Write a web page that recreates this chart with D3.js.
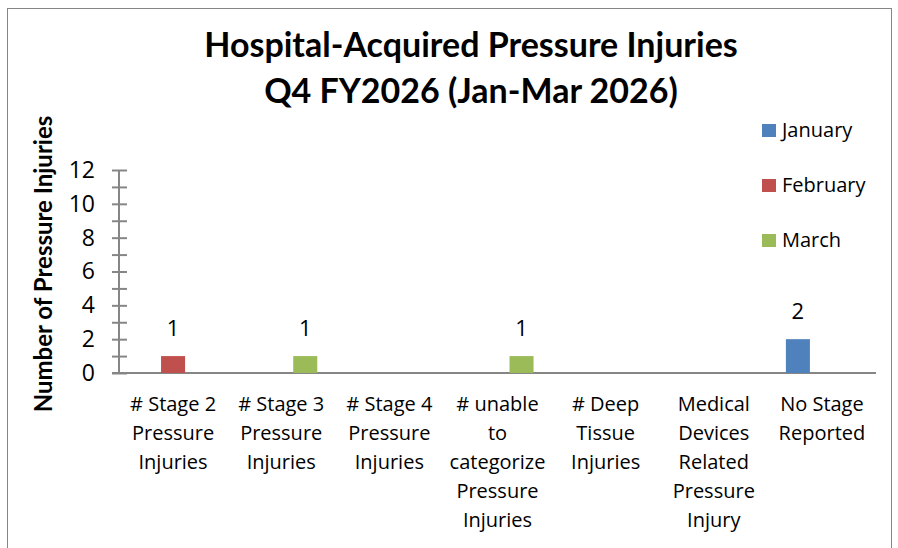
<!DOCTYPE html>
<html>
<head>
<meta charset="utf-8">
<script src="https://cdn.jsdelivr.net/npm/d3@7"></script>
<style>
  body { margin: 0; background: #fff; }
  text { fill: #000; }
</style>
</head>
<body>
<div id="chartContainer"></div>
<script>
// chart data
const categories = [
  "# Stage 2 Pressure Injuries",
  "# Stage 3 Pressure Injuries",
  "# Stage 4 Pressure Injuries",
  "# unable to categorize Pressure Injuries",
  "# Deep Tissue Injuries",
  "Medical Devices Related Pressure Injury",
  "No Stage Reported"
];
const months = ["January", "February", "March"];
const january = [null, null, null, null, null, null, 2];
const february = [1, null, null, null, null, null, null];
const march = [null, 1, null, 1, null, null, null];
const yTickLabels = [0, 2, 4, 6, 8, 10, 12];
const titleLines = ["Hospital-Acquired Pressure Injuries", "Q4 FY2026 (Jan-Mar 2026)"];
const yTitle = "Number of Pressure Injuries";

const width = 898,
  height = 548,
  axisGrey = "#868686",
  colors = { January: "#4F81BD", February: "#C0504D", March: "#9BBB59" },
  plot = { left: 119, right: 876, top: 170, bottom: 373 };

const series = [january, february, march];

const svg = d3
  .select("#chartContainer")
  .append("svg")
  .attr("width", width)
  .attr("height", height);

// outer chart border
svg
  .append("rect")
  .attr("x", 7.5)
  .attr("y", 8.5)
  .attr("width", 884)
  .attr("height", 560)
  .attr("fill", "#fff")
  .attr("stroke", axisGrey)
  .attr("stroke-width", 1);

// scales
const x = d3
  .scaleBand()
  .domain(categories)
  .range([plot.left, plot.right])
  .paddingInner(1 / 3)
  .paddingOuter(1 / 6);

const xSub = d3.scaleBand().domain(months).range([0, x.bandwidth()]);

const y = d3.scaleLinear().domain([0, 12]).range([plot.bottom, plot.top]);

// title
svg
  .append("g")
  .selectAll("text")
  .data(titleLines)
  .enter()
  .append("text")
  .attr("x", 471)
  .attr("y", (d, i) => 57 + i * 46)
  .attr("text-anchor", "middle")
  .style("font-family", "Lato, sans-serif")
  .style("font-weight", "bold")
  .style("font-size", "34px")
  .text((d) => d);

// y axis title
svg
  .append("text")
  .attr("transform", "translate(52,264) rotate(-90)")
  .attr("text-anchor", "middle")
  .style("font-family", "Lato, sans-serif")
  .style("font-weight", "bold")
  .style("font-size", "24px")
  .text(yTitle);

// y axis: ticks crossing the line, labels on even numbers
const yAxisLeft = svg
  .append("g")
  .attr("transform", "translate(" + plot.left + ",0)")
  .call(
    d3
      .axisLeft(y)
      .tickValues(d3.range(0, 13))
      .tickSize(7)
      .tickPadding(17)
      .tickFormat((d) => (yTickLabels.includes(d) ? d : ""))
  );
yAxisLeft.select(".domain").attr("stroke", axisGrey).attr("stroke-width", 2).attr("d", "M0," + plot.top + "V" + plot.bottom);
yAxisLeft.selectAll(".tick line").attr("stroke", axisGrey).attr("stroke-width", 2);
yAxisLeft
  .selectAll(".tick text")
  .style("font-family", "'Open Sans', sans-serif")
  .style("font-size", "23px")
  .attr("fill", "#000");

const yAxisRight = svg
  .append("g")
  .attr("transform", "translate(" + plot.left + ",0)")
  .call(d3.axisRight(y).tickValues(d3.range(0, 13)).tickSize(8).tickFormat(""));
yAxisRight.select(".domain").remove();
yAxisRight.selectAll(".tick line").attr("stroke", axisGrey).attr("stroke-width", 2);

// x axis line
svg
  .append("line")
  .attr("x1", plot.left - 7)
  .attr("x2", plot.right)
  .attr("y1", y(0))
  .attr("y2", y(0))
  .attr("stroke", axisGrey)
  .attr("stroke-width", 2);

// bars
const groups = svg
  .append("g")
  .selectAll("g")
  .data(categories)
  .enter()
  .append("g")
  .attr("transform", (d) => "translate(" + x(d) + ",0)");

const cells = groups
  .selectAll("g")
  .data((d, i) => months.map((m, j) => ({ month: m, value: series[j][i] })).filter((c) => c.value !== null))
  .enter()
  .append("g");

cells
  .append("rect")
  .attr("x", (d) => xSub(d.month))
  .attr("y", (d) => y(d.value))
  .attr("width", xSub.bandwidth())
  .attr("height", (d) => y(0) - y(d.value))
  .style("fill", (d) => colors[d.month]);

cells
  .append("text")
  .attr("x", (d) => xSub(d.month) + xSub.bandwidth() / 2)
  .attr("y", (d) => y(d.value) - 20)
  .attr("text-anchor", "middle")
  .style("font-family", "'Open Sans', sans-serif")
  .style("font-size", "22px")
  .text((d) => d.value);

// category labels, wrapped like the original
const catLabels = svg
  .append("g")
  .selectAll("text")
  .data(categories)
  .enter()
  .append("text")
  .attr("text-anchor", "middle")
  .style("font-family", "'Open Sans', sans-serif")
  .style("font-size", "20px")
  .attr("x", (d) => x(d) + x.bandwidth() / 2)
  .attr("y", 411);

catLabels.each(function (d) {
  const text = d3.select(this);
  const cx = +text.attr("x");
  const words = d.split(" ");
  let line = [];
  let tspan = text.append("tspan").attr("x", cx).attr("dy", 0);
  words.forEach((w) => {
    line.push(w);
    tspan.text(line.join(" "));
    if (tspan.node().getComputedTextLength() > 100 && line.length > 1) {
      line.pop();
      tspan.text(line.join(" "));
      line = [w];
      tspan = text.append("tspan").attr("x", cx).attr("dy", 29).text(w);
    }
  });
});

// legend
const legend = svg
  .append("g")
  .attr("id", "legend")
  .selectAll("g")
  .data(months)
  .enter()
  .append("g")
  .attr("transform", (d, i) => "translate(762," + (137 + i * 55) + ")");

legend
  .append("rect")
  .attr("x", 0)
  .attr("y", -13)
  .attr("width", 14)
  .attr("height", 13)
  .style("fill", (d) => colors[d]);

legend
  .append("text")
  .attr("x", 20)
  .attr("y", 0)
  .style("font-family", "'Open Sans', sans-serif")
  .style("font-size", "20px")
  .text((d) => d);
</script>
</body>
</html>
